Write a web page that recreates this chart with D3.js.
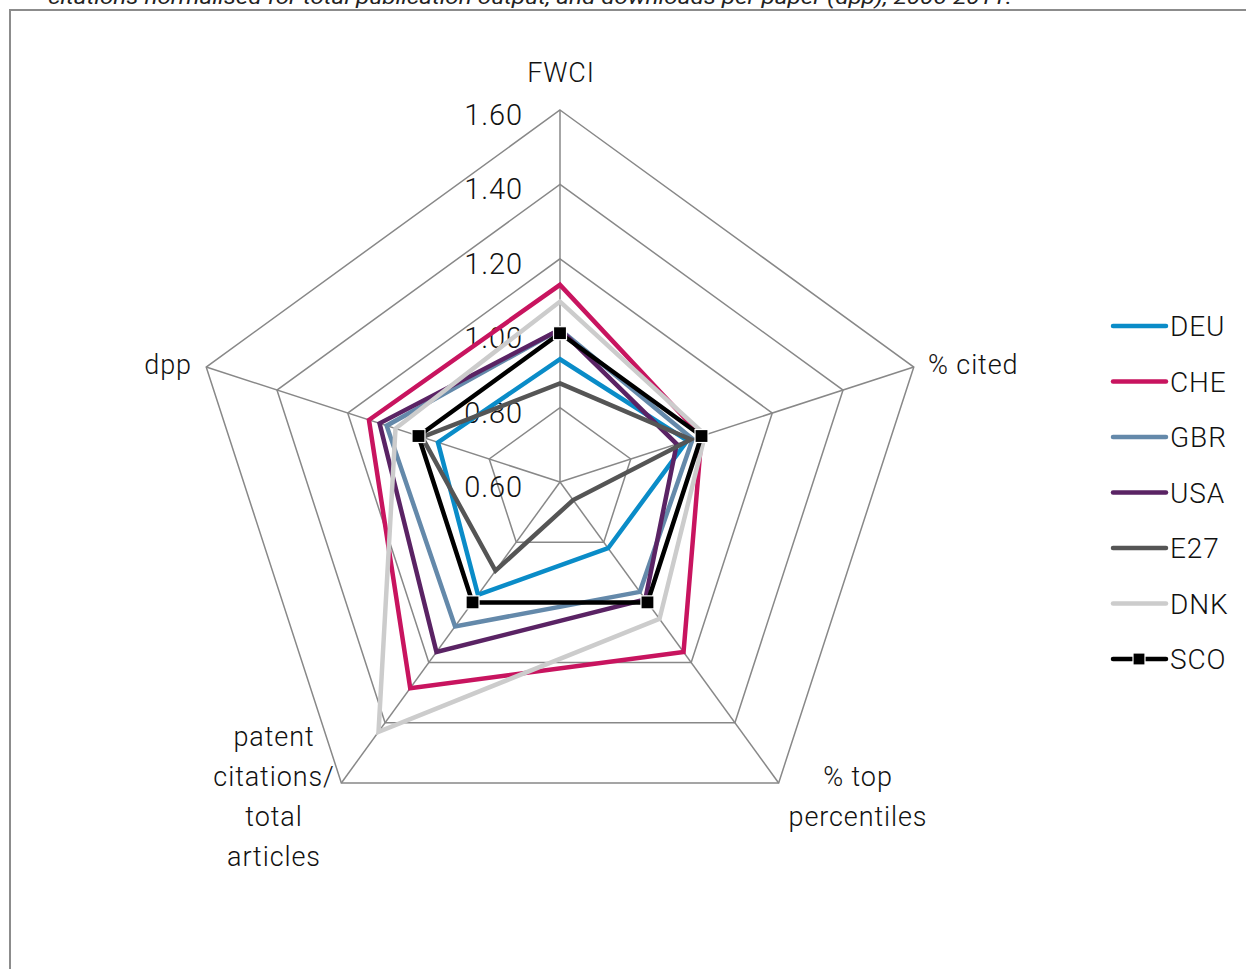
<!DOCTYPE html>
<html>
<head>
<meta charset="utf-8">
<script src="https://cdn.jsdelivr.net/npm/d3@7"></script>
<style>
  html, body { margin: 0; padding: 0; background: #fff; }
  svg { display: block; font-family: Roboto, "Liberation Sans", sans-serif; }
  .lbl { font-weight: 300; letter-spacing: 0.9px; }
</style>
</head>
<body>
<svg id="chart" width="1246" height="969"></svg>
<script>
// Indicators on the spokes, clockwise from the top
const axes = ["FWCI", "% cited", "% top percentiles", "patent citations/total articles", "dpp"];
const axisLabelLines = [["FWCI"], ["% cited"], ["% top", "percentiles"], ["patent", "citations/", "total", "articles"], ["dpp"]];

// Radial scale ticks
const ticks = [0.6, 0.8, 1.0, 1.2, 1.4, 1.6];

// Country series (index values, one per indicator)
const countries = ["DEU", "CHE", "GBR", "USA", "E27", "DNK", "SCO"];
const DEU = [0.93, 0.96, 0.82, 0.975, 0.945];
const CHE = [1.13, 1.00, 1.165, 1.285, 1.14];
const GBR = [1.01, 0.975, 0.965, 1.08, 1.09];
const USA = [1.01, 0.93, 0.99, 1.165, 1.11];
const E27 = [0.865, 0.97, 0.66, 0.895, 0.99];
const DNK = [1.085, 1.01, 1.055, 1.43, 1.065];
const SCO = [1.00, 1.00, 1.00, 1.00, 1.00];
const seriesValues = [DEU, CHE, GBR, USA, E27, DNK, SCO];
const colors = ["#0a8cc8", "#c8145f", "#6489aa", "#5a2364", "#555555", "#cccccc", "#000000"];

const svg = d3.select("#chart");
const cx = 560, cy = 482, R = 372;

const r = d3.scaleLinear().domain([0.6, 1.6]).range([0, R]);
const angle = d3.scaleOrdinal().domain(axes).range(axes.map((_, i) => i * 2 * Math.PI / axes.length));

const pt = (a, rad) => [cx + rad * Math.sin(a), cy - rad * Math.cos(a)];

// Frame
svg.append("path")
  .attr("d", "M10,969 L10,10 L1246,10")
  .attr("fill", "none").attr("stroke", "#8c8c8c").attr("stroke-width", 2);

// Caption line (runs off the top edge)
svg.append("text")
  .attr("x", 48).attr("y", 4)
  .attr("font-style", "italic").attr("font-size", 20).attr("fill", "#222")
  .attr("textLength", 964).attr("lengthAdjust", "spacingAndGlyphs")
  .text("citations normalised for total publication output, and downloads per paper (dpp), 2006-2011.");

const g = svg.append("g");

// Grid rings
ticks.filter(t => t > 0.6).forEach(t => {
  const pts = axes.map(a => pt(angle(a), r(t)));
  g.append("polygon")
    .attr("points", pts.map(p => p.join(",")).join(" "))
    .attr("fill", "none").attr("stroke", "#888").attr("stroke-width", 1.5);
});

// Spokes
axes.forEach(a => {
  const [x, y] = pt(angle(a), r(1.6));
  g.append("line").attr("x1", cx).attr("y1", cy).attr("x2", x).attr("y2", y)
    .attr("stroke", "#888").attr("stroke-width", 1.5);
});

// Tick labels
ticks.forEach(t => {
  g.append("text").attr("class", "lbl")
    .attr("x", 523).attr("y", cy - r(t) + 15)
    .attr("text-anchor", "end").attr("font-size", 29).attr("fill", "#111")
    .text(t.toFixed(2));
});

// Axis labels
const labelPos = [
  { x: 561, y: 82, anchor: "middle" },
  { x: 928, y: 374, anchor: "start" },
  { x: 858, y: 786, anchor: "middle" },
  { x: 274, y: 746, anchor: "middle" },
  { x: 192, y: 374, anchor: "end" }
];
axisLabelLines.forEach((lines, i) => {
  const t = g.append("text").attr("class", "lbl")
    .attr("font-size", 27).attr("fill", "#111")
    .attr("text-anchor", labelPos[i].anchor);
  lines.forEach((ln, j) => {
    t.append("tspan").attr("x", labelPos[i].x).attr("y", labelPos[i].y + j * 40).text(ln);
  });
});

// Series polygons
const lineGen = d3.line().curve(d3.curveLinearClosed);
seriesValues.forEach((vals, si) => {
  const pts = vals.map((v, i) => pt(angle(axes[i]), r(v)));
  g.append("path")
    .attr("d", lineGen(pts))
    .attr("fill", "none").attr("stroke", colors[si]).attr("stroke-width", 4.5)
    .attr("stroke-linejoin", "miter");
  if (countries[si] === "SCO") {
    pts.forEach(p => {
      g.append("rect")
        .attr("x", p[0] - 6.5).attr("y", p[1] - 6.5)
        .attr("width", 13).attr("height", 13)
        .attr("fill", "#000").attr("stroke", "#fff").attr("stroke-width", 1.2);
    });
  }
});

// Legend
const legend = svg.append("g");
countries.forEach((c, i) => {
  const y = 326 + i * 55.5;
  legend.append("line")
    .attr("x1", 1113).attr("x2", 1166).attr("y1", y).attr("y2", y)
    .attr("stroke", colors[i]).attr("stroke-width", 4.5).attr("stroke-linecap", "round");
  if (c === "SCO") {
    legend.append("rect").attr("x", 1133).attr("y", y - 6).attr("width", 12).attr("height", 12)
      .attr("fill", "#000").attr("stroke", "#fff").attr("stroke-width", 1.2);
  }
  legend.append("text").attr("class", "lbl")
    .attr("x", 1170).attr("y", y + 10)
    .attr("font-size", 28).attr("fill", "#111")
    .text(c);
});
</script>
</body>
</html>
